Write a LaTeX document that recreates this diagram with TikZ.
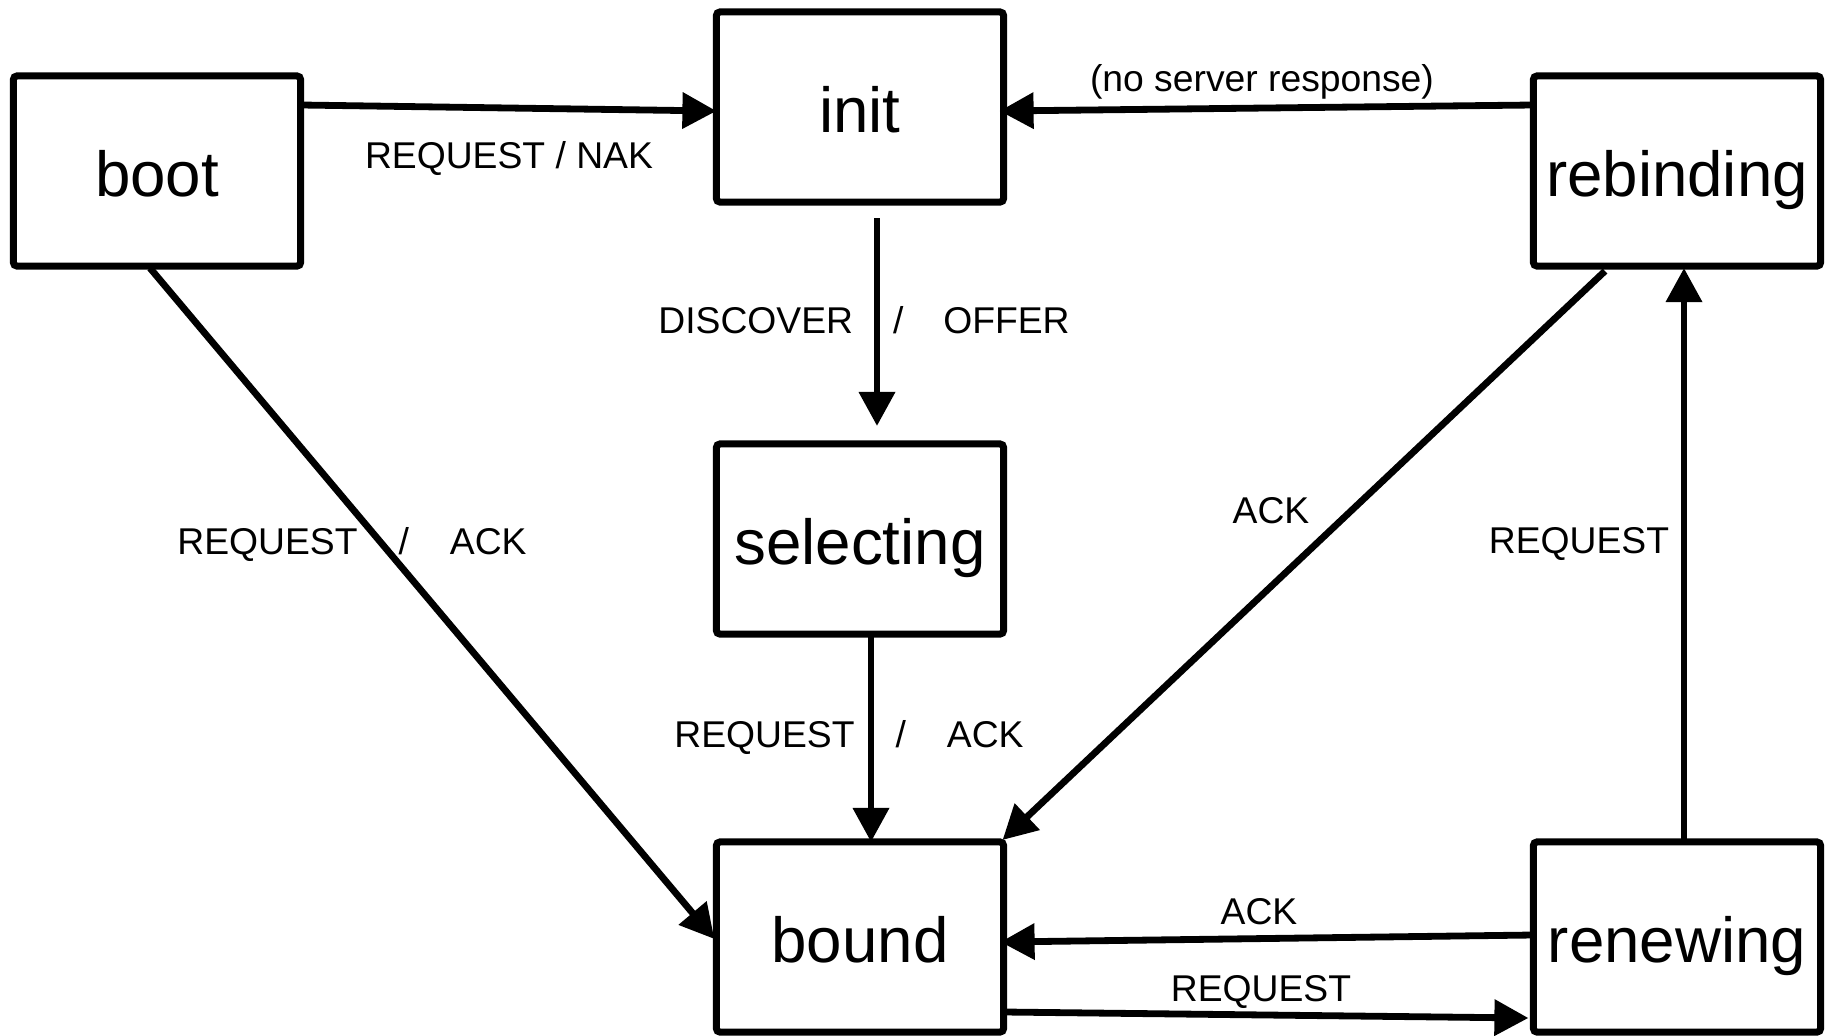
\documentclass[tikz,border=0pt]{standalone}
\usepackage{fontspec}
\setmainfont{Liberation Sans}
\usetikzlibrary{arrows.meta,calc}
\begin{document}
\begin{tikzpicture}[x=0.01cm,y=-0.01cm,
  state/.style={draw, line width=0.07cm, minimum width=2.87cm, minimum height=1.9cm, inner sep=0pt, outer sep=0pt, text height=0.5cm, text depth=0cm, rounded corners=1pt, font=\fontsize{18.1}{20}\selectfont},
  lbl/.style={font=\fontsize{10.6}{12}\selectfont, inner sep=0pt},
  conn/.style={line width=0.068cm, -{Triangle[length=0.34cm,width=0.35cm]}}]
\useasboundingbox (0,0) rectangle (1829,1035);
\fill[white] (0,0) rectangle (1829,1035);
\node[state] (boot) at (157,171) {boot};
\node[state] (init) at (860,107) {init};
\node[state] (selecting) at (860,539) {selecting};
\node[state] (bound) at (860,937) {bound};
\node[state] (rebinding) at (1677,171) {rebinding};
\node[state] (renewing) at (1677,937) {renewing};
% boot -> init
\draw[conn] ($(boot.east)+(1.5,-66)$) -- ($(init.west)+(0,4)$);
\node[lbl] (l1) at (509,159) {REQUEST / NAK};
% rebinding -> init
\draw[conn] ($(rebinding.west)+(-1.5,-66)$) -- ($(init.east)+(-4,4)$);
\node[lbl] (l2) at (1262,82) {(no server response)};
% init -> selecting
\draw[conn] ($(init.south)+(17,16)$) -- ($(selecting.north)+(17,-18)$);
\node[lbl] (l3) at (864,320) {DISCOVER\hspace{1.07em}/\hspace{1.07em}OFFER};
% selecting -> bound
\draw[conn] ($(selecting.south)+(11,0)$) -- ($(bound.north)+(11,0)$);
\node[lbl] (l4) at (849,737) {REQUEST\hspace{1.1em}/\hspace{1.1em}ACK};
% boot -> bound
\draw[conn] ($(boot.south)+(-7,2)$) -- ($(bound.west)+(-2,2)$);
\node[lbl] (l5) at (352,544) {REQUEST\hspace{1.1em}/\hspace{1.1em}ACK};
% rebinding -> bound
\draw[conn] ($(rebinding.south)+(-72,5)$) -- ($(bound.north east)+(-1,-2)$);
\node[lbl] (l6) at (1271,511) {ACK};
% renewing -> rebinding
\draw[conn] ($(renewing.north)+(7,0)$) -- ($(rebinding.south)+(7,2)$);
\node[lbl] (l7) at (1579,544) {REQUEST};
% renewing -> bound
\draw[conn] ($(renewing.west)+(-1,-2)$) -- ($(bound.east)+(-3,5)$);
\node[lbl] (l8) at (1259,912) {ACK};
% bound -> renewing
\draw[conn] ($(bound.east)+(1.5,75)$) -- ($(renewing.west)+(-5,81)$);
\node[lbl] (l9) at (1261,992) {REQUEST};
\end{tikzpicture}
\end{document}
